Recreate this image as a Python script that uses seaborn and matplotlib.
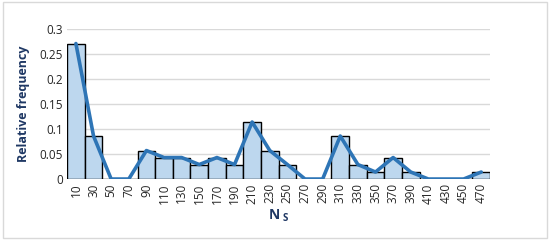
import pandas as pd
import matplotlib
matplotlib.use("Agg")
import matplotlib.pyplot as plt
import seaborn as sns
from matplotlib.ticker import FuncFormatter

# bin centres and relative frequencies
ns_bins = [10, 30, 50, 70, 90, 110, 130, 150, 170, 190, 210, 230,
           250, 270, 290, 310, 330, 350, 370, 390, 410, 430, 450, 470]
rel_freq = [0.271, 0.086, 0.0, 0.0, 0.057, 0.043, 0.043, 0.029, 0.043, 0.029, 0.114, 0.057,
            0.029, 0.0, 0.0, 0.086, 0.029, 0.014, 0.043, 0.014, 0.0, 0.0, 0.0, 0.014]
y_ticks = [0, 0.05, 0.1, 0.15, 0.2, 0.25, 0.3]

sns.set_theme(style="white")
plt.rcParams['font.family'] = ['Open Sans', 'DejaVu Sans']
plt.rcParams['mathtext.fontset'] = 'custom'
plt.rcParams['mathtext.bf'] = 'Open Sans:bold'
plt.rcParams['mathtext.rm'] = 'Open Sans'

df = pd.DataFrame({"Ns": [str(v) for v in ns_bins], "freq": rel_freq})
df["pos"] = range(len(df))

fig = plt.figure(figsize=(5.5, 2.4), dpi=100)
ax = fig.add_axes([0.122, 0.254, 0.769, 0.625])

for y in y_ticks:
    ax.axhline(y, color="#d9d9d9", lw=1, zorder=0)

sns.barplot(data=df, x="Ns", y="freq", color="#bdd7ee", width=1.0,
            edgecolor="black", linewidth=1.0, saturation=1, ax=ax, zorder=2)
sns.lineplot(data=df, x="pos", y="freq", color="#2e75b6", linewidth=2.6,
             ax=ax, zorder=3)

ax.set_xlim(-0.5, len(df) - 0.5)
ax.set_ylim(0, 0.3)
ax.set_yticks(y_ticks)
ax.yaxis.set_major_formatter(FuncFormatter(lambda v, p: f"{v:g}"))
ax.set_xticks(range(len(df)))
ax.set_xticklabels(df["Ns"], rotation=90)
ax.tick_params(axis="both", length=0, labelsize=8.5, colors="#262626", pad=3)
for s in ax.spines.values():
    s.set_visible(False)

ax.set_ylabel("Relative frequency", fontsize=9, fontweight="bold", color="#1f3864", labelpad=7)
ax.set_xlabel(r"$\mathbf{N_{\ S}}$", fontsize=10, color="#1f3864", labelpad=3)

fig.patches.append(plt.Rectangle((0.005, 0.01), 0.99, 0.98, transform=fig.transFigure,
                                 fill=False, edgecolor="#d9d9d9", lw=1))
fig.savefig("out.png", dpi=100)
